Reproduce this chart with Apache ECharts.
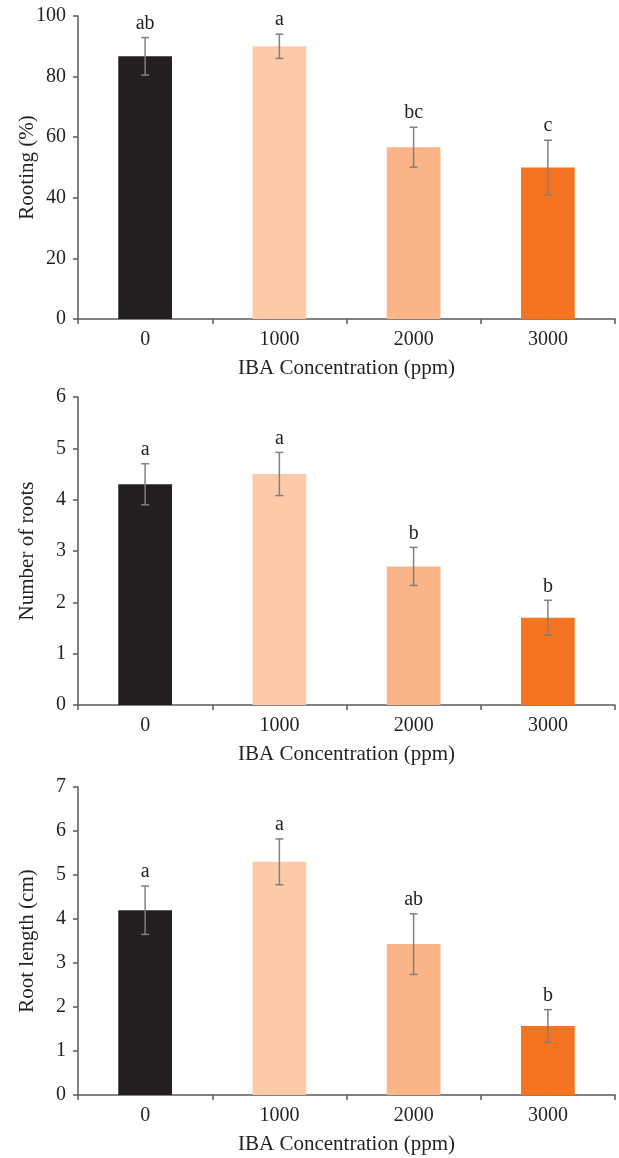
<!DOCTYPE html>
<html>
<head>
<meta charset="utf-8">
<script src="https://cdn.jsdelivr.net/npm/echarts@6/dist/echarts.min.js"></script>
<style>
html,body{margin:0;padding:0;background:#fff;}
#main{width:619px;height:1158px;}
</style>
</head>
<body>
<div id="main"></div>
<script>
var categories = ['0', '1000', '2000', '3000'];
var barColors = ['#231f20', '#fccaa9', '#f9b487', '#f47422'];

var rootingMean = [86.7, 90.0, 56.7, 50.0];
var rootingErr = [6.2, 4.0, 6.6, 9.0];
var rootingLetters = ['ab', 'a', 'bc', 'c'];

var numberMean = [4.3, 4.5, 2.7, 1.7];
var numberErr = [0.4, 0.42, 0.37, 0.34];
var numberLetters = ['a', 'a', 'b', 'b'];

var lengthMean = [4.2, 5.3, 3.43, 1.57];
var lengthErr = [0.55, 0.52, 0.69, 0.37];
var lengthLetters = ['a', 'a', 'ab', 'b'];

var font = 'Liberation Serif';
var textColor = '#231f20';
var axisColor = '#5a5a5a';

var chart = echarts.init(document.getElementById('main'));

var panels = [
    {name: 'Rooting (%)', max: 100, interval: 20, mean: rootingMean, err: rootingErr, letters: rootingLetters, top: 16, height: 303},
    {name: 'Number of roots', max: 6, interval: 1, mean: numberMean, err: numberErr, letters: numberLetters, top: 397, height: 308},
    {name: 'Root length (cm)', max: 7, interval: 1, mean: lengthMean, err: lengthErr, letters: lengthLetters, top: 787, height: 308}
];

var grids = [], xAxes = [], yAxes = [], series = [];

panels.forEach(function (p, i) {
    grids.push({left: 78, width: 537, top: p.top, height: p.height, outerBoundsMode: 'none', containLabel: false});
    xAxes.push({
        type: 'category',
        gridIndex: i,
        data: categories,
        name: 'IBA Concentration (ppm)',
        nameLocation: 'middle',
        nameGap: 39,
        nameMoveOverlap: false,
        nameTextStyle: {fontFamily: font, fontSize: 21, color: textColor},
        axisLine: {lineStyle: {color: axisColor, width: 1.5}},
        axisTick: {show: true, length: 5, lineStyle: {color: axisColor, width: 1.5}},
        axisLabel: {fontFamily: font, fontSize: 20, color: textColor, margin: 11}
    });
    yAxes.push({
        type: 'value',
        gridIndex: i,
        min: 0,
        max: p.max,
        interval: p.interval,
        name: p.name,
        nameLocation: 'middle',
        nameGap: 40,
        nameMoveOverlap: false,
        nameTextStyle: {fontFamily: font, fontSize: 21, color: textColor},
        splitLine: {show: false},
        axisLine: {show: true, lineStyle: {color: axisColor, width: 1.5}},
        axisTick: {show: true, length: 5, lineStyle: {color: axisColor, width: 1.5}},
        axisLabel: {fontFamily: font, fontSize: 20, color: textColor, margin: 12}
    });
    series.push({
        type: 'bar',
        xAxisIndex: i,
        yAxisIndex: i,
        barWidth: '40%',
        data: p.mean.map(function (v, k) {
            return {value: v, itemStyle: {color: barColors[k]}};
        })
    });
    series.push({
        type: 'custom',
        xAxisIndex: i,
        yAxisIndex: i,
        z: 5,
        data: p.mean.map(function (v, k) {
            return [k, v - p.err[k], v + p.err[k]];
        }),
        renderItem: function (params, api) {
            var lo = api.coord([api.value(0), api.value(1)]);
            var hi = api.coord([api.value(0), api.value(2)]);
            var x = lo[0], w = 4;
            var st = {stroke: '#808080', lineWidth: 1.5};
            return {
                type: 'group',
                children: [
                    {type: 'line', shape: {x1: x, y1: lo[1], x2: x, y2: hi[1]}, style: st},
                    {type: 'line', shape: {x1: x - w, y1: lo[1], x2: x + w, y2: lo[1]}, style: st},
                    {type: 'line', shape: {x1: x - w, y1: hi[1], x2: x + w, y2: hi[1]}, style: st},
                    {type: 'text', x: x, y: hi[1] - 4, style: {
                        text: p.letters[params.dataIndex], fill: textColor,
                        font: '20px "' + font + '"', align: 'center', verticalAlign: 'bottom'
                    }}
                ]
            };
        }
    });
});

chart.setOption({
    animation: false,
    grid: grids,
    xAxis: xAxes,
    yAxis: yAxes,
    series: series
});
</script>
</body>
</html>
